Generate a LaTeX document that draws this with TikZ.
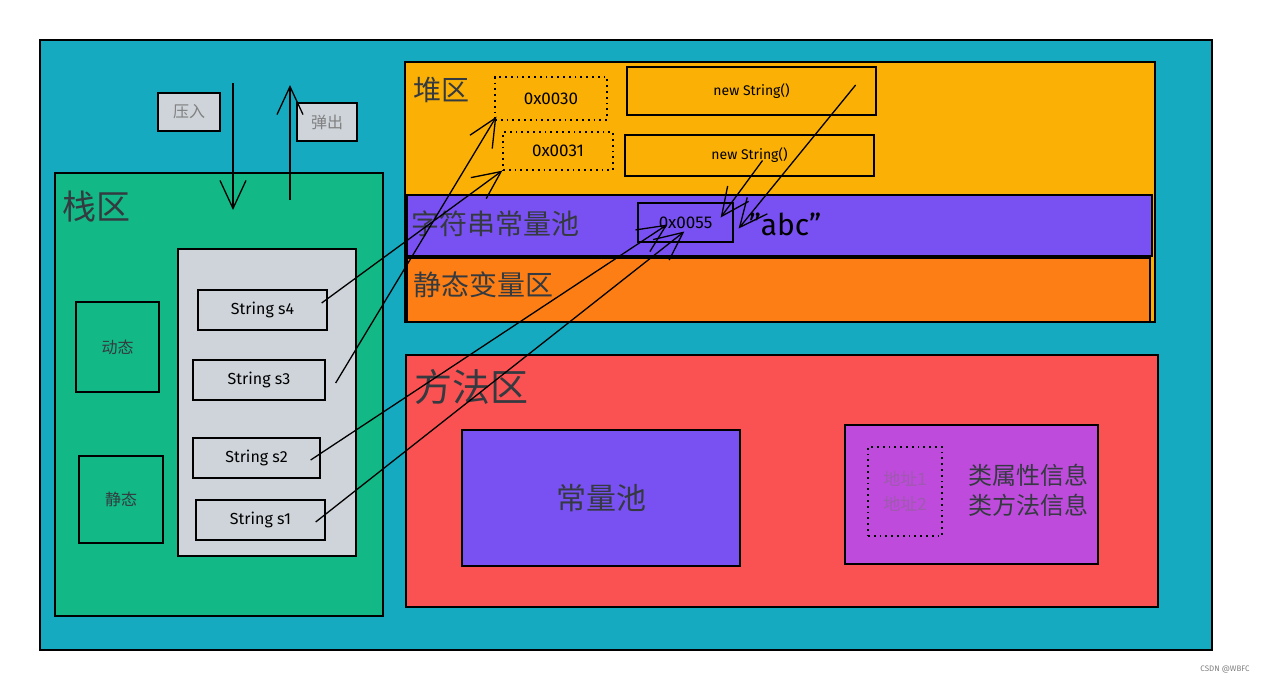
\documentclass[tikz,border=0pt]{standalone}
\usepackage{fontspec}
\setmainfont{Fira Sans}
\newfontfamily\cjk{Noto Sans CJK SC}
\usetikzlibrary{calc, arrows.meta}

\definecolor{jvmc}{HTML}{15AABF}
\definecolor{stackc}{HTML}{12B886}
\definecolor{grayc}{HTML}{CED4DA}
\definecolor{heapc}{HTML}{FAB005}
\definecolor{staticc}{HTML}{FD7E14}
\definecolor{poolc}{HTML}{7950F2}
\definecolor{methodc}{HTML}{FA5252}
\definecolor{classc}{HTML}{BE4BDB}
\definecolor{addrc}{HTML}{9E5AAE}
\definecolor{txtc}{HTML}{343A40}

\begin{document}
\begin{tikzpicture}[x=1pt, y=-1pt, line width=1.3pt,
  box/.style={draw, inner sep=0pt},
  dots/.style={dash pattern=on 1.8pt off 4pt},
  hand/.style={font=\fontsize{16}{18}\selectfont},
  zh/.style={font=\cjk\fontsize{#1}{#1}\selectfont, text=txtc, inner sep=0pt},
  ref/.style={-{Straight Barb[length=28pt, width=26pt, line width=1.3pt]}}]
  \useasboundingbox (0,0) rectangle (1271,683);
  % 整体区域
  \draw[fill=jvmc] (40,40) rectangle (1212,650);
  % 栈区
  \draw[fill=stackc] (55,173) rectangle (383,616);
  \node[zh=34, anchor=west] (stack) at (62,207) {栈区};
  \draw[fill=grayc] (178,249) rectangle (356,556);
  \node[box, hand, minimum width=129, minimum height=40] (s4) at (262.5,310) {String s4};
  \node[box, hand, minimum width=132, minimum height=40] (s3) at (259,380) {String s3};
  \node[box, hand, minimum width=127, minimum height=40] (s2) at (256.5,458) {String s2};
  \node[box, hand, minimum width=129, minimum height=40] (s1) at (260.5,520) {String s1};
  \node[box, fill=stackc, minimum width=83, minimum height=90, zh=16] (dyn) at (117.5,347) {动态};
  \node[box, fill=stackc, minimum width=84, minimum height=87, zh=16] (sta) at (121,499.5) {静态};
  % 压入 / 弹出
  \node[box, fill=grayc, minimum width=62, minimum height=38, zh=16, text=gray] (push) at (189,112) {压入};
  \node[box, fill=grayc, minimum width=60, minimum height=38, zh=16, text=gray] (pop) at (327,122) {弹出};
  \coordinate (pushA) at (233,83);
  \coordinate (pushB) at (233,210);
  \coordinate (popA) at (290,200);
  \coordinate (popB) at (290,85);
  \draw[ref] (pushA) -- (pushB);
  \draw[ref] (popA) -- (popB);
  % 堆区
  \draw[fill=heapc] (405,62) rectangle (1155,322);
  \draw[fill=poolc] (407,195) rectangle (1152,256);
  \draw[fill=staticc] (407,258) rectangle (1150,322);
  \node[zh=28, anchor=west] (heap) at (413,90) {堆区};
  \node[zh=28, anchor=west] (spool) at (411,224) {字符串常量池};
  \node[zh=28, anchor=west] (svar) at (413,285) {静态变量区};
  \node[box, dots, font=\fontsize{17}{19}\selectfont, minimum width=112, minimum height=43] (a30) at (551,98.5) {0x0030};
  \node[box, dots, font=\fontsize{17}{19}\selectfont, minimum width=110, minimum height=38] (a31) at (558,151) {0x0031};
  \node[box, font=\fontsize{14}{16}\selectfont, minimum width=249, minimum height=48] (ns1) at (751.5,91) {new String()};
  \node[box, font=\fontsize{14}{16}\selectfont, minimum width=249, minimum height=41] (ns2) at (749.5,155.5) {new String()};
  \node[box, font=\fontsize{17}{19}\selectfont, minimum width=95, minimum height=39] (a55) at (685.5,222.5) {0x0055};
  \node[font=\fontsize{30}{32}\selectfont, anchor=west] (abc) at (745,224) {"abc"};
  % 方法区
  \draw[fill=methodc] (406,355) rectangle (1158,607);
  \node[zh=38, anchor=west] (method) at (414,387) {方法区};
  \node[box, fill=poolc, minimum width=278, minimum height=136, zh=30] (cpool) at (601,498) {常量池};
  \node[box, fill=classc, minimum width=253, minimum height=139] (cls) at (971.5,494.5) {};
  \node[box, dots, minimum width=74, minimum height=89] (addr) at (905,491.5) {};
  \node[zh=17, text=addrc, align=center] (addrtxt) at (addr.center) {地址1\\[8pt]地址2};
  \node[zh=24, align=left] (info) at (1028,490) {类属性信息\\[6pt]类方法信息};
  % 引用
  \draw[ref] ($(s4.east)+(-6,-7)$) -- (a31.south west);
  \draw[ref] ($(s3.east)+(10,3)$) -- ($(a30.south west)+(2,-4)$);
  \draw[ref] ($(s2.east)+(-10,2)$) -- ($(a55.west)+(30,2)$);
  \draw[ref] ($(s1.east)+(-10,2)$) -- ($(a55.west)+(47,9)$);
  \draw[ref] ($(ns2.center)+(13,5)$) -- ($(a55.east)+(-13,-5)$);
  \draw[ref] ($(ns1.east)+(-21,-6)$) -- ($(a55.east)+(5,6)$);
  % 水印
  \node[font=\fontsize{8}{9}\selectfont, text=gray] (mark) at (1225,670) {CSDN @WBFC};
\end{tikzpicture}
\end{document}
